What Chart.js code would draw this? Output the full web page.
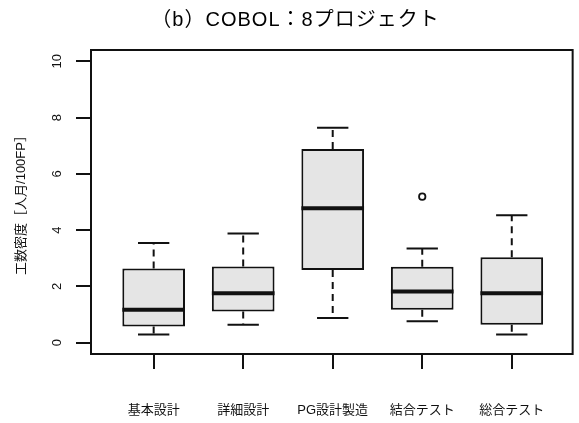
<!DOCTYPE html>
<html>
<head>
<meta charset="utf-8">
<script src="https://cdn.jsdelivr.net/npm/chart.js@4/dist/chart.umd.min.js"></script>
<style>
  html, body { margin: 0; padding: 0; background: #ffffff; }
  #wrap { width: 579px; height: 423px; }
</style>
</head>
<body>
<div id="wrap"><canvas id="c" width="579" height="423"></canvas></div>
<script>
// 工程別の工数密度（COBOL：8プロジェクト）— 箱ひげ図の要約統計量
const chartTitle = '（b）COBOL：8プロジェクト';
const yTitle = '工数密度［人月/100FP］';
const categories = ['基本設計', '詳細設計', 'PG設計製造', '結合テスト', '総合テスト'];
const whiskerLow = [0.29, 0.64, 0.88, 0.76, 0.29];
const quartile1  = [0.58, 1.11, 2.58, 1.17, 0.64];
const medians    = [1.17, 1.76, 4.78, 1.82, 1.76];
const quartile3  = [2.64, 2.71, 6.88, 2.70, 3.04];
const whiskerHigh = [3.54, 3.88, 7.64, 3.35, 4.53];
const outliers   = [[], [], [], [5.19], []];
const yTicks = [0, 2, 4, 6, 8, 10];
const yTickLabels = ['0', '2', '4', '6', '8', '10'];

const JP = "'Noto Sans CJK JP', 'Noto Sans', sans-serif";
const MIXED = "'Liberation Sans', 'Noto Sans CJK JP', sans-serif";
const INK = '#111111';

const boxData = categories.map((c, i) => ({ x: i + 1, y: [quartile1[i], quartile3[i]] }));
const outlierData = [];
outliers.forEach((vals, i) => vals.forEach(v => outlierData.push({ x: i + 1, y: v })));

// 中央値・ひげ・外枠・縦軸目盛ラベル・タイトルを描くプラグイン
const boxplotParts = {
  id: 'boxplotParts',
  afterDatasetsDraw(chart) {
    const ctx = chart.ctx;
    const ys = chart.scales.y;
    const meta = chart.getDatasetMeta(0);
    ctx.save();
    ctx.strokeStyle = INK;
    meta.data.forEach((bar, i) => {
      const cx = bar.x;
      const half = bar.width / 2;
      const yMed = ys.getPixelForValue(medians[i]);
      const yQ1 = ys.getPixelForValue(quartile1[i]);
      const yQ3 = ys.getPixelForValue(quartile3[i]);
      const yLo = ys.getPixelForValue(whiskerLow[i]);
      const yHi = ys.getPixelForValue(whiskerHigh[i]);
      // ひげ（破線）
      ctx.lineWidth = 2;
      ctx.setLineDash([7, 5]);
      ctx.beginPath();
      ctx.moveTo(cx, yQ3); ctx.lineTo(cx, yHi);
      ctx.moveTo(cx, yQ1); ctx.lineTo(cx, yLo);
      ctx.stroke();
      // ひげの端
      ctx.setLineDash([]);
      ctx.beginPath();
      ctx.moveTo(cx - half / 2, yHi); ctx.lineTo(cx + half / 2, yHi);
      ctx.moveTo(cx - half / 2, yLo); ctx.lineTo(cx + half / 2, yLo);
      ctx.stroke();
      // 中央値
      ctx.lineWidth = 4;
      ctx.beginPath();
      ctx.moveTo(cx - half, yMed); ctx.lineTo(cx + half, yMed);
      ctx.stroke();
    });
    ctx.restore();
  },
  afterDraw(chart) {
    const ctx = chart.ctx;
    const a = chart.chartArea;
    const ys = chart.scales.y;
    ctx.save();
    // 外枠
    ctx.strokeStyle = INK;
    ctx.lineWidth = 2;
    ctx.strokeRect(a.left, a.top, a.right - a.left, a.bottom - a.top);
    // 縦軸の目盛ラベル（軸に平行）
    ctx.fillStyle = INK;
    ctx.font = '13px ' + MIXED;
    ctx.textAlign = 'center';
    ctx.textBaseline = 'middle';
    yTicks.forEach((v, i) => {
      ctx.save();
      ctx.translate(a.left - 34, ys.getPixelForValue(v));
      ctx.rotate(-Math.PI / 2);
      ctx.fillText(yTickLabels[i], 0, 0);
      ctx.restore();
    });
    // タイトル
    ctx.font = '20px ' + MIXED;
    ctx.letterSpacing = '1px';
    ctx.fillStyle = '#000000';
    ctx.fillText(chartTitle, chart.width / 2 + 6, 20);
    ctx.restore();
  }
};

new Chart(document.getElementById('c'), {
  type: 'bar',
  data: {
    datasets: [
      {
        type: 'bar',
        data: boxData,
        backgroundColor: '#e5e5e5',
        borderColor: INK,
        borderWidth: 2,
        borderSkipped: false,
        categoryPercentage: 1.0,
        barPercentage: 0.7
      },
      {
        type: 'scatter',
        data: outlierData,
        pointStyle: 'circle',
        pointRadius: 3.2,
        pointBorderWidth: 1.8,
        pointBackgroundColor: 'rgba(0,0,0,0)',
        pointBorderColor: INK
      }
    ]
  },
  options: {
    responsive: false,
    animation: false,
    devicePixelRatio: 1,
    layout: { padding: { top: 50, right: 2, left: 0, bottom: 0 } },
    plugins: {
      legend: { display: false },
      tooltip: { enabled: false },
      title: { display: false }
    },
    scales: {
      x: {
        type: 'linear',
        min: 0.3,
        max: 5.68,
        offset: false,
        afterFit(scale) { scale.height = 69; },
        afterBuildTicks(scale) { scale.ticks = categories.map((c, i) => ({ value: i + 1 })); },
        grid: {
          offset: false,
          drawOnChartArea: false,
          drawTicks: true,
          tickLength: 15,
          color: INK,
          lineWidth: 2
        },
        border: { display: false },
        ticks: {
          autoSkip: false,
          maxRotation: 0,
          minRotation: 0,
          padding: 34,
          color: INK,
          font: { family: MIXED, size: 13 },
          callback: (v) => categories[Math.round(v) - 1]
        }
      },
      y: {
        type: 'linear',
        min: -0.4,
        max: 10.4,
        afterFit(scale) { scale.width = 91; },
        afterBuildTicks(scale) { scale.ticks = yTicks.map(v => ({ value: v })); },
        grid: {
          drawOnChartArea: false,
          drawTicks: true,
          tickLength: 15,
          color: INK,
          lineWidth: 2
        },
        border: { display: false },
        ticks: { display: false },
        title: {
          display: true,
          text: yTitle,
          color: INK,
          font: { family: MIXED, size: 13 },
          padding: { top: 14, bottom: 0 }
        }
      }
    }
  },
  plugins: [boxplotParts]
});
</script>
</body>
</html>
